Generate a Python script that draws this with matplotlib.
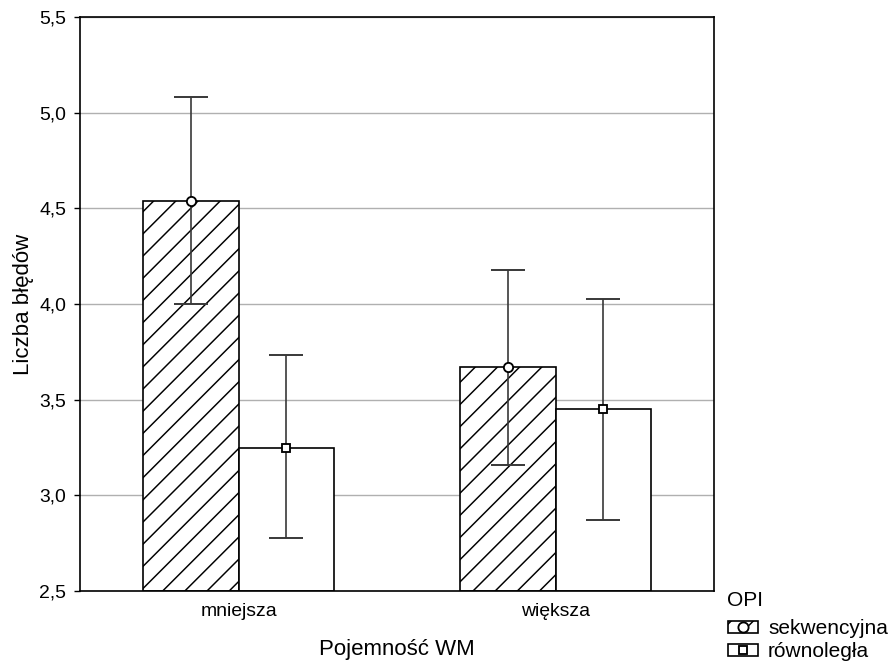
import numpy as np
import matplotlib
matplotlib.use('Agg')
import matplotlib.pyplot as plt
from matplotlib.patches import Patch
from matplotlib.lines import Line2D
from matplotlib.legend_handler import HandlerTuple

# higher dpi gives a wider hatch spacing, sizes below are in points at this dpi
DPI = 400 / 3
plt.rcParams['font.family'] = ['Liberation Sans', 'DejaVu Sans']
plt.rcParams['hatch.linewidth'] = 0.8

# mean number of errors by WM capacity and OPI type
groups = ['mniejsza', 'większa']
seq_mean = [4.54, 3.67]
seq_low = [4.00, 3.16]
seq_high = [5.08, 4.18]
par_mean = [3.25, 3.45]
par_low = [2.775, 2.87]
par_high = [3.735, 4.025]
yticks = [2.5, 3.0, 3.5, 4.0, 4.5, 5.0, 5.5]

fig = plt.figure(figsize=(889 / DPI, 662 / DPI), dpi=DPI)
ax = fig.add_axes([80/889, 71/662, 634/889, 574/662])

x = np.array([0.5, 1.5])
w = 0.3
ymin = 2.5

ax.bar(x - w/2, np.array(seq_mean) - ymin, bottom=ymin, width=w, color='white',
       edgecolor='black', hatch='//', linewidth=0.9, zorder=2)
ax.bar(x + w/2, np.array(par_mean) - ymin, bottom=ymin, width=w, color='white',
       edgecolor='black', linewidth=0.9, zorder=2)

seq_err = [np.array(seq_mean) - np.array(seq_low), np.array(seq_high) - np.array(seq_mean)]
par_err = [np.array(par_mean) - np.array(par_low), np.array(par_high) - np.array(par_mean)]
ax.errorbar(x - w/2, seq_mean, yerr=seq_err, fmt='o', color='#383838', mfc='white',
            mec='black', ms=5, capsize=9, elinewidth=0.9, capthick=1.05, zorder=3)
ax.errorbar(x + w/2, par_mean, yerr=par_err, fmt='s', color='#383838', mfc='white',
            mec='black', ms=4.5, capsize=9, elinewidth=0.9, capthick=1.05, zorder=3)

ax.set_xlim(0, 2)
ax.set_ylim(2.5, 5.5)
ax.set_yticks(yticks)
ax.set_yticklabels([('%.1f' % t).replace('.', ',') for t in yticks], fontsize=10.5)
ax.set_xticks(x)
ax.set_xticklabels(groups, fontsize=10.5)
ax.tick_params(axis='x', length=0, pad=6.5)
ax.tick_params(axis='y', length=3, width=0.75, pad=4.5)
ax.yaxis.grid(True, color='#b0b0b0', linewidth=0.75, zorder=0)
ax.set_axisbelow(True)
for s in ax.spines.values():
    s.set_linewidth(0.9)

ax.set_ylabel('Liczba błędów', fontsize=12, labelpad=3)
ax.set_xlabel('Pojemność WM', fontsize=12, labelpad=10)

# legend: title as plain text, entries are box + marker
fig.text(727/889, 1 - 600/662, 'OPI', fontsize=11.25, va='center', ha='left')
h1 = (Patch(facecolor='white', edgecolor='black', hatch='//', linewidth=0.9),
      Line2D([], [], marker='o', ls='', mfc='white', mec='black', ms=5.5))
h2 = (Patch(facecolor='white', edgecolor='black', linewidth=0.9),
      Line2D([], [], marker='s', ls='', mfc='white', mec='black', ms=3.8))
leg = fig.legend([h1, h2], ['sekwencyjna', 'równoległa'],
                 handler_map={tuple: HandlerTuple(ndivide=1, pad=0)},
                 loc='upper left', bbox_to_anchor=(728/889, 1 - 619/662), frameon=False,
                 fontsize=11.25, handlelength=1.42, handleheight=0.52,
                 handletextpad=0.5, labelspacing=0.2, borderpad=0, borderaxespad=0)

fig.savefig('out.png', dpi=DPI)
